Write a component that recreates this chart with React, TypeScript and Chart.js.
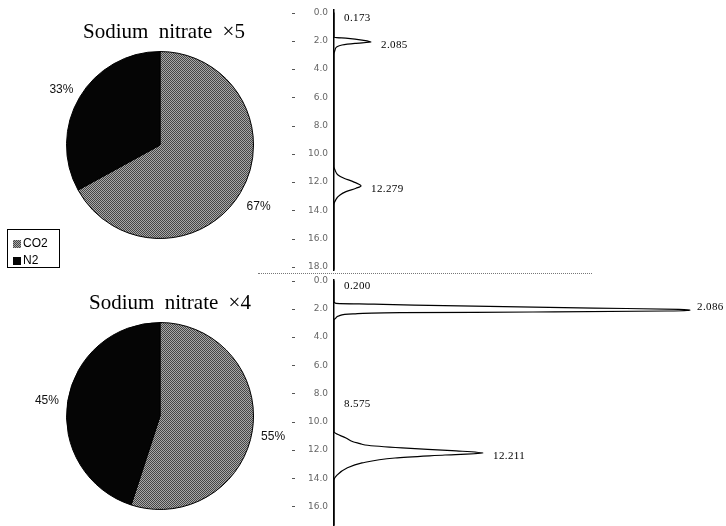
import React, { useEffect, useRef } from "react";
import { Chart, registerables } from "chart.js";

Chart.register(...registerables);

// ---------- data ----------
const gasLabels = ["CO2", "N2"];
const pieTitleTop = "Sodium nitrate ×5";
const pieTitleBottom = "Sodium nitrate ×4";
const pieTopValues = [67, 33];
const pieBottomValues = [55, 45];

const timeTicks = [0, 2, 4, 6, 8, 10, 12, 14, 16, 18];

// top chromatogram (retention time in min, detector signal)
const topTimes = [0, 1.5, 1.76, 1.83, 1.95, 2.085, 2.18, 2.3, 2.42, 2.65, 3.0, 10.9, 11.15, 11.5, 11.73, 11.97, 12.279, 12.44, 12.68, 12.92, 13.22, 13.62, 18.2];
const topSignal = [0, 0, 0, 14, 28, 37, 21, 8, 3, 1, 0, 0, 1, 4, 10, 19, 27, 22, 12, 6, 2, 0, 0];
const topPeakTimes = [0.173, 2.085, 12.279];
const topPeakLabels = ["0.173", "2.085", "12.279"];

// bottom chromatogram
const bottomTimes = [0, 1.5, 1.62, 1.68, 1.74, 1.85, 1.95, 2.04, 2.086, 2.16, 2.23, 2.28, 2.37, 2.5, 2.65, 2.8, 10.71, 11.15, 11.42, 11.55, 11.65, 11.86, 12.05, 12.211, 12.36, 12.57, 12.92, 13.28, 13.78, 14.13, 17.35];
const bottomSignal = [0, 0, 2, 40, 80, 170, 260, 345, 356, 333, 199, 66, 19, 5, 2, 0, 0, 12, 19, 26, 31, 68, 118, 149, 111, 61, 28, 13, 3, 0, 0];
const bottomPeakTimes = [0.2, 2.086, 8.575, 12.211];
const bottomPeakLabels = ["0.200", "2.086", "8.575", "12.211"];

// ---------- helpers ----------
function makeGrayPattern(): CanvasPattern | string {
  const c = document.createElement("canvas");
  c.width = 2;
  c.height = 2;
  const g = c.getContext("2d");
  if (!g) return "#7a7a7a";
  g.fillStyle = "#454545";
  g.fillRect(0, 0, 2, 2);
  g.fillStyle = "#a8a8a8";
  g.fillRect(1, 0, 1, 1);
  g.fillRect(0, 1, 1, 1);
  const p = g.createPattern(c, "repeat");
  return p || "#7a7a7a";
}

const pieDecor = {
  id: "pieDecor",
  afterDraw(chart: any, _args: any, opts: any) {
    const ctx: CanvasRenderingContext2D = chart.ctx;
    const meta = chart.getDatasetMeta(0);
    const ds = chart.data.datasets[0];
    const total = ds.data.reduce((a: number, b: number) => a + b, 0);
    ctx.save();
    ctx.fillStyle = "#000";
    ctx.textAlign = "center";
    ctx.textBaseline = "middle";
    ctx.font = '21px "Liberation Serif", "Times New Roman", serif';
    (ctx as any).wordSpacing = "5px";
    ctx.fillText(opts.title, opts.titleX, opts.titleY);
    (ctx as any).wordSpacing = "0px";
    ctx.font = '12px "Liberation Sans", Arial, sans-serif';
    ctx.fillStyle = "#111";
    meta.data.forEach((arc: any, i: number) => {
      const p = arc.getProps(["x", "y", "startAngle", "endAngle", "outerRadius"], true);
      const mid = (p.startAngle + p.endAngle) / 2;
      const r = p.outerRadius + 21;
      ctx.fillText(Math.round((ds.data[i] / total) * 100) + "%", p.x + Math.cos(mid) * r, p.y + Math.sin(mid) * r + 3);
    });
    if (opts.legend) {
      const L = opts.legend;
      ctx.strokeStyle = "#000";
      ctx.lineWidth = 1;
      ctx.strokeRect(L.x + 0.5, L.y + 0.5, L.w, L.h);
      ctx.textAlign = "left";
      chart.data.labels.forEach((lab: string, i: number) => {
        const cy = L.y + 15 + i * 17;
        ctx.fillStyle = ds.backgroundColor[i];
        ctx.fillRect(L.x + 6, cy - 4, 8, 8);
        ctx.fillStyle = "#000";
        ctx.fillText(lab, L.x + 16, cy);
      });
    }
    ctx.restore();
  },
};

const chromDecor = {
  id: "chromDecor",
  afterDraw(chart: any, _args: any, opts: any) {
    const ctx: CanvasRenderingContext2D = chart.ctx;
    const xs = chart.scales.x;
    const ys = chart.scales.y;
    ctx.save();
    ctx.fillStyle = "#555";
    ys.ticks.forEach((t: any) => {
      const py = ys.getPixelForValue(t.value);
      ctx.fillRect(chart.chartArea.left - 42, Math.round(py), 3, 1);
    });
    const pts = chart.data.datasets[0].data;
    ctx.fillStyle = "#000";
    ctx.font = '11px "Liberation Serif", "Times New Roman", serif';
    (ctx as any).letterSpacing = "0.4px";
    ctx.textAlign = "left";
    ctx.textBaseline = "middle";
    opts.times.forEach((t: number, i: number) => {
      let apex = 0;
      pts.forEach((p: any) => {
        if (Math.abs(p.y - t) < 0.2) apex = Math.max(apex, p.x);
      });
      const dy = apex > 200 ? -3 : 3;
      ctx.fillText(opts.labels[i], xs.getPixelForValue(apex) + (apex > 200 ? 7 : 10), ys.getPixelForValue(t) + dy);
    });
    ctx.restore();
  },
};

function pieConfig(values: number[], title: string, titleX: number, titleY: number, padding: any, legend: any) {
  const gray = makeGrayPattern();
  return {
    type: "pie",
    data: {
      labels: gasLabels,
      datasets: [
        {
          data: values,
          backgroundColor: [gray, "#050505"],
          borderColor: "#000",
          borderWidth: 1,
        },
      ],
    },
    options: {
      responsive: false,
      animation: false,
      events: [],
      layout: { padding },
      plugins: {
        legend: { display: false },
        tooltip: { enabled: false },
        title: { display: false },
        pieDecor: { title, titleX, titleY, legend },
      },
    },
    plugins: [pieDecor],
  };
}

function chromConfig(times: number[], signal: number[], yMin: number, yMax: number, padding: any, peakTimes: number[], peakLabels: string[]) {
  return {
    type: "line",
    data: {
      datasets: [
        {
          data: times.map((t, i) => ({ x: signal[i], y: t })),
          borderColor: "#000",
          borderWidth: 1.2,
          pointRadius: 0,
          fill: false,
          cubicInterpolationMode: "monotone",
        },
      ],
    },
    options: {
      responsive: false,
      animation: false,
      events: [],
      indexAxis: "y",
      layout: { padding },
      scales: {
        x: { type: "linear", display: false, min: 0, max: 392 },
        y: {
          type: "linear",
          reverse: true,
          min: yMin,
          max: yMax,
          grid: { display: false, drawTicks: false },
          border: { display: true, color: "#000", width: 1.5 },
          ticks: {
            padding: 6,
            color: "#666",
            font: { family: '"DejaVu Sans", sans-serif', size: 9 },
            callback: (v: any) => Number(v).toFixed(1),
          },
          afterBuildTicks: (s: any) => {
            s.ticks = timeTicks.filter((v) => v >= s.min && v <= s.max).map((v) => ({ value: v }));
          },
          afterFit: (s: any) => {
            s.width = 49;
            s.paddingTop = 0;
            s.paddingBottom = 0;
          },
        },
      },
      plugins: {
        legend: { display: false },
        tooltip: { enabled: false },
        chromDecor: { times: peakTimes, labels: peakLabels },
      },
    },
    plugins: [chromDecor],
  };
}

function ChartBox(props: { left: number; top: number; width: number; height: number; make: () => any }) {
  const ref = useRef<HTMLCanvasElement>(null);
  useEffect(() => {
    const chart = new Chart(ref.current as HTMLCanvasElement, props.make());
    return () => chart.destroy();
  }, []);
  return (
    <div style={{ position: "absolute", left: props.left, top: props.top, width: props.width, height: props.height }}>
      <canvas ref={ref} width={props.width} height={props.height} style={{ width: props.width, height: props.height, display: "block" }} />
    </div>
  );
}

export default function App() {
  return (
    <div style={{ position: "fixed", left: 0, top: 0, width: 726, height: 526, overflow: "hidden", background: "#fff" }}>
      <ChartBox
        left={285}
        top={0}
        width={441}
        height={275}
        make={() => chromConfig(topTimes, topSignal, (10 - 12.5) / 14.13, (270 - 12.5) / 14.13, { top: 10, bottom: 5, left: 0, right: 0 }, topPeakTimes, topPeakLabels)}
      />
      <ChartBox
        left={285}
        top={276}
        width={441}
        height={250}
        make={() => chromConfig(bottomTimes, bottomSignal, (280 - 280.5) / 14.12, (526 - 280.5) / 14.12, { top: 4, bottom: 0, left: 0, right: 0 }, bottomPeakTimes, bottomPeakLabels)}
      />
      <div style={{ position: "absolute", left: 258, top: 273, width: 334, height: 0, borderTop: "1px dotted #777" }} />
      <ChartBox
        left={0}
        top={0}
        width={330}
        height={275}
        make={() => pieConfig(pieTopValues, pieTitleTop, 164, 32, { top: 51, bottom: 36, left: 66, right: 76 }, { x: 7, y: 229, w: 52, h: 38 })}
      />
      <ChartBox
        left={0}
        top={276}
        width={340}
        height={250}
        make={() => pieConfig(pieBottomValues, pieTitleBottom, 170, 27, { top: 46, bottom: 16, left: 66, right: 86 }, null)}
      />
    </div>
  );
}
